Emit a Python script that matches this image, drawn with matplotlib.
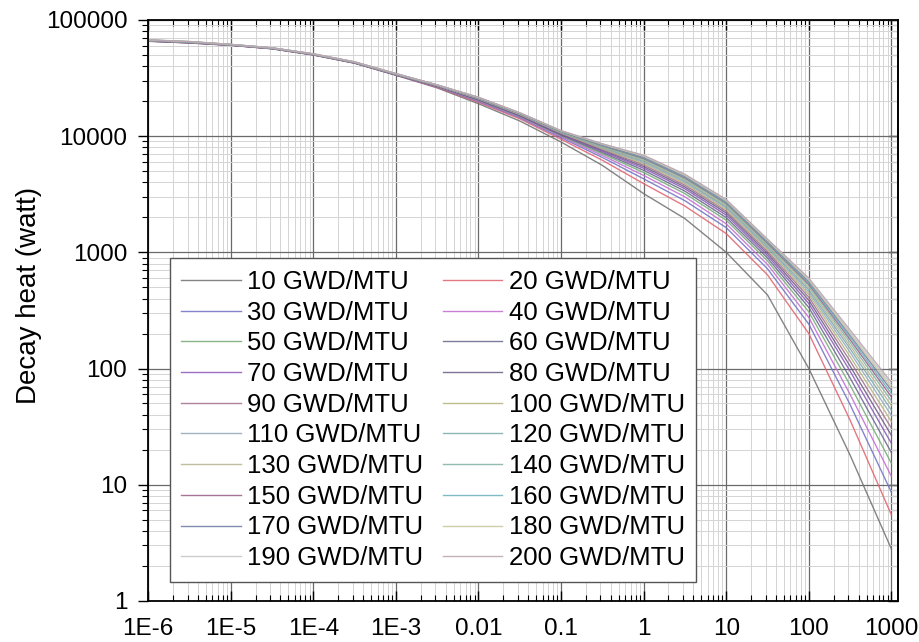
import numpy as np
import matplotlib
matplotlib.use("Agg")
import matplotlib.pyplot as plt
from matplotlib.ticker import LogLocator, FixedLocator, FixedFormatter, NullFormatter

plt.rcParams['font.family'] = ['Liberation Sans', 'DejaVu Sans']

# cooling time points
times = [1e-6, 3.16e-6, 1e-5, 3.16e-5, 1e-4, 3.16e-4, 1e-3, 3.16e-3, 1e-2, 3.16e-2,
         0.1, 0.316, 1, 3.16, 10, 31.6, 100, 316, 1000]

# decay heat (watt), one list per burnup
heat_10 = [65500, 63300, 60400, 56400, 49900, 42400, 33400, 26000, 19000, 13500, 8900, 5600, 3200, 1950, 1000, 430, 100, 18, 2.8]
heat_20 = [65600, 63400, 60500, 56500, 50000, 42500, 33500, 26300, 19500, 14100, 9400, 6200, 3900, 2500, 1450, 640, 200, 36, 5.5]
heat_30 = [65700, 63500, 60560, 56560, 50060, 42560, 33560, 26520, 19860, 14410, 9700, 6560, 4290, 2780, 1630, 722, 241, 49, 8.6]
heat_40 = [65800, 63600, 60620, 56620, 50120, 42620, 33620, 26680, 20110, 14620, 9910, 6820, 4590, 3000, 1760, 786, 275, 60, 11.8]
heat_50 = [65900, 63700, 60680, 56680, 50180, 42680, 33680, 26810, 20320, 14800, 10080, 7040, 4860, 3200, 1890, 844, 307, 72, 15.3]
heat_60 = [66000, 63800, 60740, 56740, 50240, 42740, 33740, 26910, 20490, 14950, 10220, 7230, 5080, 3360, 1990, 893, 335, 83, 18.9]
heat_70 = [66100, 63900, 60800, 56800, 50300, 42800, 33800, 27000, 20630, 15070, 10350, 7400, 5290, 3520, 2090, 938, 362, 95, 22.7]
heat_80 = [66200, 64000, 60860, 56860, 50360, 42860, 33860, 27080, 20760, 15180, 10450, 7550, 5470, 3650, 2180, 979, 387, 105, 26.6]
heat_90 = [66300, 64100, 60920, 56920, 50420, 42920, 33920, 27150, 20880, 15280, 10550, 7680, 5640, 3780, 2260, 1018, 411, 116, 30.7]
heat_100 = [66400, 64200, 60980, 56980, 50480, 42980, 33980, 27220, 20980, 15370, 10630, 7810, 5800, 3900, 2330, 1055, 434, 127, 35.0]
heat_110 = [66500, 64300, 61040, 57040, 50540, 43040, 34040, 27280, 21080, 15450, 10710, 7930, 5950, 4010, 2410, 1089, 456, 138, 39.4]
heat_120 = [66600, 64400, 61100, 57100, 50600, 43100, 34100, 27330, 21160, 15520, 10780, 8030, 6090, 4120, 2470, 1121, 476, 148, 43.8]
heat_130 = [66700, 64500, 61160, 57160, 50660, 43160, 34160, 27370, 21230, 15590, 10840, 8120, 6210, 4210, 2530, 1148, 495, 157, 48.0]
heat_140 = [66800, 64600, 61220, 57220, 50720, 43220, 34220, 27420, 21310, 15650, 10910, 8220, 6330, 4300, 2590, 1177, 515, 167, 52.6]
heat_150 = [66900, 64700, 61280, 57280, 50780, 43280, 34280, 27460, 21370, 15700, 10960, 8300, 6440, 4380, 2650, 1203, 532, 177, 56.9]
heat_160 = [67000, 64800, 61340, 57340, 50840, 43340, 34340, 27490, 21420, 15750, 11000, 8360, 6530, 4450, 2690, 1224, 547, 185, 60.8]
heat_170 = [67100, 64900, 61400, 57400, 50900, 43400, 34400, 27520, 21470, 15790, 11050, 8430, 6620, 4520, 2740, 1246, 562, 193, 64.9]
heat_180 = [67200, 65000, 61460, 57460, 50960, 43460, 34460, 27550, 21520, 15830, 11080, 8490, 6700, 4580, 2770, 1264, 574, 200, 68.4]
heat_190 = [67300, 65100, 61520, 57520, 51020, 43520, 34520, 27570, 21560, 15860, 11120, 8550, 6770, 4640, 2810, 1282, 587, 207, 72.1]
heat_200 = [67400, 65200, 61580, 57580, 51080, 43580, 34580, 27600, 21600, 15900, 11150, 8600, 6850, 4700, 2850, 1300, 600, 215, 76]

series = [
    ("10 GWD/MTU", heat_10, "#6e6e6e"),
    ("20 GWD/MTU", heat_20, "#e0606c"),
    ("30 GWD/MTU", heat_30, "#6f6fc4"),
    ("40 GWD/MTU", heat_40, "#c26ad2"),
    ("50 GWD/MTU", heat_50, "#74a874"),
    ("60 GWD/MTU", heat_60, "#64648a"),
    ("70 GWD/MTU", heat_70, "#8a55b8"),
    ("80 GWD/MTU", heat_80, "#6a5a84"),
    ("90 GWD/MTU", heat_90, "#a06c8c"),
    ("100 GWD/MTU", heat_100, "#b2b27a"),
    ("110 GWD/MTU", heat_110, "#94a6ba"),
    ("120 GWD/MTU", heat_120, "#78a8a8"),
    ("130 GWD/MTU", heat_130, "#b4b48e"),
    ("140 GWD/MTU", heat_140, "#82b0a4"),
    ("150 GWD/MTU", heat_150, "#985c84"),
    ("160 GWD/MTU", heat_160, "#68b0ba"),
    ("170 GWD/MTU", heat_170, "#7078a4"),
    ("180 GWD/MTU", heat_180, "#c6c69a"),
    ("190 GWD/MTU", heat_190, "#c4c4c4"),
    ("200 GWD/MTU", heat_200, "#b8a4b0"),
]

x_ticks = [1e-6, 1e-5, 1e-4, 1e-3, 1e-2, 0.1, 1, 10, 100, 1000]
x_labels = ['1E-6', '1E-5', '1E-4', '1E-3', '0.01', '0.1', '1', '10', '100', '1000']
y_ticks = [1, 10, 100, 1000, 10000, 100000]
y_labels = ['1', '10', '100', '1000', '10000', '100000']

fig = plt.figure(figsize=(9.2, 6.42), dpi=100)
ax = fig.add_axes([0.161, 0.064, 0.815, 0.905])

lines = []
for label, vals, color in series:
    ln, = ax.plot(times, vals, color=color, linewidth=1.0, alpha=0.85, label=label)
    lines.append(ln)

ax.set_xscale('log')
ax.set_yscale('log')
ax.set_xlim(1e-6, 1.2e3)
ax.set_ylim(1, 1e5)

minor_subs = np.arange(2, 10)
ax.xaxis.set_major_locator(FixedLocator(x_ticks))
ax.xaxis.set_major_formatter(FixedFormatter(x_labels))
ax.yaxis.set_major_locator(FixedLocator(y_ticks))
ax.yaxis.set_major_formatter(FixedFormatter(y_labels))
ax.xaxis.set_minor_locator(LogLocator(base=10, subs=minor_subs, numticks=30))
ax.yaxis.set_minor_locator(LogLocator(base=10, subs=minor_subs, numticks=30))
ax.xaxis.set_minor_formatter(NullFormatter())
ax.yaxis.set_minor_formatter(NullFormatter())

ax.grid(True, which='major', color='#6a6a6a', linewidth=0.9)
ax.grid(True, which='minor', color='#d4d4d4', linewidth=0.7)
ax.set_axisbelow(True)

ax.tick_params(axis='x', which='both', direction='in', top=True, bottom=True,
               labelsize=17.5, pad=12)
ax.tick_params(axis='y', which='both', direction='out', left=True, right=False,
               labelsize=17.5, pad=8)
ax.tick_params(which='major', length=7, width=1.0)
ax.tick_params(which='minor', length=4, width=0.8)

# right spine gets inward ticks
sec = ax.secondary_yaxis('right')
sec.yaxis.set_major_locator(FixedLocator(y_ticks))
sec.yaxis.set_minor_locator(LogLocator(base=10, subs=minor_subs, numticks=30))
sec.tick_params(which='both', direction='in', labelright=False)
sec.tick_params(which='major', length=7, width=1.0)
sec.tick_params(which='minor', length=4, width=0.8)

for sp in ax.spines.values():
    sp.set_linewidth(1.3)
sec.spines['right'].set_linewidth(1.3)

ax.set_ylabel('Decay heat (watt)', fontsize=20)
ax.yaxis.set_label_coords(-0.141, 0.525)

# legend fills row by row (10, 20 on the first row)
order = list(range(0, 20, 2)) + list(range(1, 20, 2))
leg = ax.legend([lines[i] for i in order], [series[i][0] for i in order],
                ncol=2, loc='lower left', bbox_to_anchor=(0.029, 0.033),
                fontsize=18.5, frameon=True, fancybox=False, edgecolor='#555555',
                framealpha=1.0, handlelength=2.3, handletextpad=0.25,
                columnspacing=0.78, labelspacing=0.26, borderpad=0.45,
                borderaxespad=0.0)
leg.get_frame().set_linewidth(1.0)

plt.savefig('out.png', dpi=100)
